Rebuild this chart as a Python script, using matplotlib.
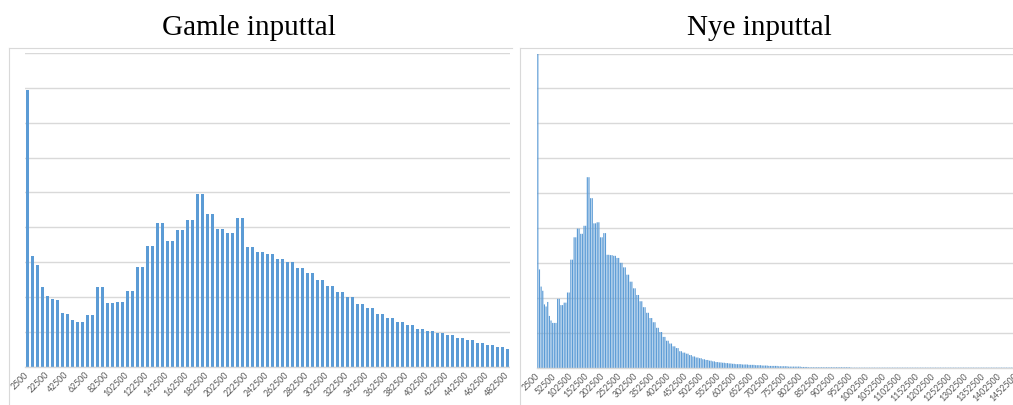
import matplotlib
matplotlib.use("Agg")
import matplotlib.pyplot as plt
import numpy as np
from matplotlib.lines import Line2D
from matplotlib.patches import Rectangle

W, H = 1013, 405

BIN_START = 2500
BIN_STEP = 5000

# counts per 5000-wide bin, old input numbers (left chart)
old_counts = [
    795, 318, 291, 228, 202, 193, 190, 154, 150, 134,
    127, 127, 149, 149, 229, 229, 182, 182, 184, 184,
    216, 216, 285, 285, 346, 346, 411, 411, 360, 360,
    391, 391, 420, 420, 496, 496, 437, 437, 394, 394,
    382, 382, 425, 425, 343, 343, 328, 328, 324, 324,
    310, 310, 299, 299, 284, 284, 267, 267, 249, 249,
    232, 232, 215, 215, 200, 200, 180, 180, 167, 167,
    152, 152, 139, 139, 128, 128, 119, 119, 108, 108,
    102, 102, 95, 95, 90, 90, 83, 83, 76, 76,
    68, 68, 61, 61, 55, 55, 50, 50,
]

# counts per 5000-wide bin, new input numbers (right chart)
new_counts = [
    900, 282, 233, 221, 182, 176, 189, 149, 136, 129,
    129, 129, 198, 198, 180, 180, 187, 187, 216, 216,
    310, 310, 374, 374, 399, 399, 384, 384, 407, 407,
    546, 546, 486, 486, 414, 414, 417, 417, 374, 374,
    386, 386, 324, 324, 323, 323, 321, 321, 315, 315,
    301, 301, 288, 288, 267, 267, 247, 247, 228, 228,
    209, 209, 191, 191, 174, 174, 158, 158, 143, 143,
    131, 131, 115, 115, 103, 103, 89, 89, 78, 78,
    70, 70, 62, 62, 57, 57, 48, 48, 44, 44,
    41, 41, 37, 37, 33, 33, 30, 30, 28, 28,
    25, 25, 23, 23, 21, 21, 19, 19, 17, 17,
    16, 16, 15, 15, 14, 14, 13, 13, 12, 12,
    11, 11, 11, 11, 10, 10, 10, 10, 9, 9,
    9, 9, 8, 8, 8, 8, 7, 7, 7, 7,
    6, 6, 6, 6, 6, 6, 5, 5, 5, 5,
    5, 5, 4, 4, 4, 4, 4, 4, 4, 4,
    3, 3, 3, 3, 2, 2, 2, 2, 2, 2,
    2, 2, 2, 2, 2, 2, 2, 2, 2, 2,
    2, 2, 2, 2, 2, 2, 2, 2, 2, 2,
    1, 1, 1, 1, 1, 1, 1, 1, 1, 1,
    1, 1, 1, 1, 1, 1, 1, 1, 1, 1,
    1, 1, 1, 1, 1, 1, 1, 1, 1, 1,
    1, 1, 1, 1, 1, 1, 1, 1, 1, 1,
    1, 1, 1, 1, 1, 1, 1, 1, 1, 1,
    1, 1, 1, 1, 1, 1, 1, 1, 1, 1,
    1, 1, 1, 1, 1, 1, 1, 1, 1, 1,
    1, 1, 1, 1, 1, 1, 1, 1, 1, 1,
    1, 1, 1, 1, 1, 1, 1, 1, 1, 1,
    1, 1, 1, 1, 1, 1, 1, 1, 1, 1,
    1, 1, 1, 1, 1, 1, 1, 1, 1, 1,
]

titles = ["Gamle inputtal", "Nye inputtal"]

GRID_COLOR = "#D9D9D9"
LABEL_COLOR = "#595959"


def px_box(x0, y0, x1, y1):
    return [x0 / W, 1 - y1 / H, (x1 - x0) / W, (y1 - y0) / H]


def draw_panel(fig, box, counts, label_every, xmax, bar_width, color, snap=None):
    ax = fig.add_axes(box)
    pos = np.arange(len(counts))
    bars = ax.bar(pos, counts, width=bar_width, color=color, linewidth=0)
    if snap is not None:
        for b in bars:
            b.set_snap(snap)
    ax.set_xlim(-0.5, xmax)
    ax.set_ylim(0, 900)
    ax.set_yticks(np.arange(0, 901, 100))
    ax.yaxis.grid(True, color=GRID_COLOR, linewidth=1.0)
    ax.set_axisbelow(True)
    ax.tick_params(axis="y", length=0, labelleft=False)

    ticks = pos[::label_every]
    ax.set_xticks(ticks)
    ax.set_xticklabels(
        [str(BIN_START + BIN_STEP * i) for i in ticks],
        rotation=45, ha="right", va="center", rotation_mode="anchor",
        fontsize=6.3, color=LABEL_COLOR, family="Lato",
    )
    ax.tick_params(axis="x", length=0, pad=5)
    for side in ("top", "right", "left"):
        ax.spines[side].set_visible(False)
    ax.spines["bottom"].set_color(GRID_COLOR)
    ax.spines["bottom"].set_linewidth(1.0)
    return ax


def chart_border(fig, x0, x1, y0):
    fig.add_artist(Line2D([x0 / W, x0 / W], [1 - y0 / H, 0], transform=fig.transFigure,
                          color=GRID_COLOR, linewidth=0.8))
    fig.add_artist(Line2D([x0 / W, x1 / W], [1 - y0 / H, 1 - y0 / H], transform=fig.transFigure,
                          color=GRID_COLOR, linewidth=0.8))


def main() -> None:
    fig = plt.figure(figsize=(W / 100, H / 100), dpi=100)

    chart_border(fig, 8.5, 512, 47.5)
    chart_border(fig, 519.5, 1013, 47.5)

    draw_panel(fig, px_box(25, 53, 510, 366.5), old_counts, 4, 96.5, 0.42, "#5B9BD5")
    # right chart runs past the screenshot edge, so its last labels are cut
    draw_panel(fig, px_box(537, 53.5, 1030, 368), new_counts, 10,
               -0.5 + (1030 - 537) / 1.65, 0.7, "#5B9BD5", snap=False)

    # the screenshot cuts the left chart just before the right one starts
    fig.add_artist(Rectangle((510 / W, 0), 8 / W, 60 / H, transform=fig.transFigure,
                             facecolor="white", edgecolor="none", zorder=20))

    fig.text(248.5 / W, 1 - 35 / H, titles[0], ha="center", va="baseline",
             fontsize=21, family="Liberation Serif")
    fig.text(759.5 / W, 1 - 35 / H, titles[1], ha="center", va="baseline",
             fontsize=21, family="Liberation Serif")

    fig.savefig("out.png", dpi=100)
    plt.close(fig)


if __name__ == "__main__":
    main()
